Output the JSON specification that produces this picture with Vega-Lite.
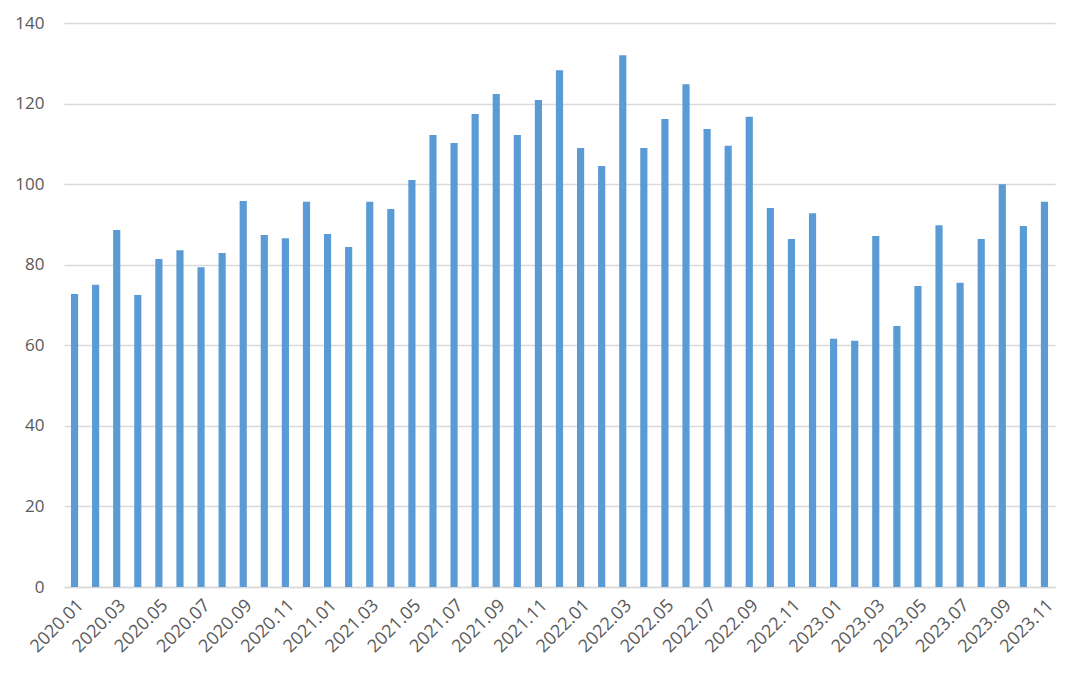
{
  "$schema": "https://vega.github.io/schema/vega-lite/v6.json",
  "autosize": {"type": "none"},
  "padding": {"left": 64, "top": 23, "right": 29, "bottom": 92},
  "width": 991,
  "height": 564,
  "background": "white",
  "config": {"view": {"stroke": null}},
  "data": {"values": [
    {"m": "2020.01", "v": 72.7}, {"m": "2020.02", "v": 75.0}, {"m": "2020.03", "v": 88.6}, {"m": "2020.04", "v": 72.5},
    {"m": "2020.05", "v": 81.4}, {"m": "2020.06", "v": 83.6}, {"m": "2020.07", "v": 79.4}, {"m": "2020.08", "v": 82.9},
    {"m": "2020.09", "v": 95.8}, {"m": "2020.10", "v": 87.4}, {"m": "2020.11", "v": 86.6}, {"m": "2020.12", "v": 95.6},
    {"m": "2021.01", "v": 87.6}, {"m": "2021.02", "v": 84.4}, {"m": "2021.03", "v": 95.6}, {"m": "2021.04", "v": 93.8},
    {"m": "2021.05", "v": 101.0}, {"m": "2021.06", "v": 112.2}, {"m": "2021.07", "v": 110.2}, {"m": "2021.08", "v": 117.4},
    {"m": "2021.09", "v": 122.4}, {"m": "2021.10", "v": 112.2}, {"m": "2021.11", "v": 120.9}, {"m": "2021.12", "v": 128.3},
    {"m": "2022.01", "v": 109.0}, {"m": "2022.02", "v": 104.5}, {"m": "2022.03", "v": 132.0}, {"m": "2022.04", "v": 109.0},
    {"m": "2022.05", "v": 116.2}, {"m": "2022.06", "v": 124.8}, {"m": "2022.07", "v": 113.7}, {"m": "2022.08", "v": 109.5},
    {"m": "2022.09", "v": 116.7}, {"m": "2022.10", "v": 94.1}, {"m": "2022.11", "v": 86.4}, {"m": "2022.12", "v": 92.8},
    {"m": "2023.01", "v": 61.6}, {"m": "2023.02", "v": 61.1}, {"m": "2023.03", "v": 87.1}, {"m": "2023.04", "v": 64.8},
    {"m": "2023.05", "v": 74.7}, {"m": "2023.06", "v": 89.8}, {"m": "2023.07", "v": 75.5}, {"m": "2023.08", "v": 86.4},
    {"m": "2023.09", "v": 100.0}, {"m": "2023.10", "v": 89.6}, {"m": "2023.11", "v": 95.6}
  ]},
  "mark": {"type": "bar", "color": "#5b9bd5"},
  "encoding": {
    "x": {
      "field": "m", "type": "ordinal", "sort": null, "title": null,
      "scale": {"paddingInner": 0.66, "paddingOuter": 0.33},
      "axis": {
        "labelAngle": -45, "labelFont": "Open Sans", "labelFontSize": 18, "labelColor": "#595959",
        "ticks": false, "domainColor": "#d9d9d9", "domainWidth": 1.5, "labelPadding": 9,
        "labelExpr": "indexof(['01','03','05','07','09','11'], substring(datum.value,5,7)) >= 0 ? datum.value : ''"
      }
    },
    "y": {
      "field": "v", "type": "quantitative", "title": null,
      "scale": {"domain": [0, 140], "nice": false},
      "axis": {
        "values": [0, 20, 40, 60, 80, 100, 120, 140],
        "labelFont": "Open Sans", "labelFontSize": 17, "labelColor": "#595959",
        "ticks": false, "domain": false, "labelPadding": 20,
        "gridColor": "#d9d9d9", "gridWidth": 1.5
      }
    }
  }
}
